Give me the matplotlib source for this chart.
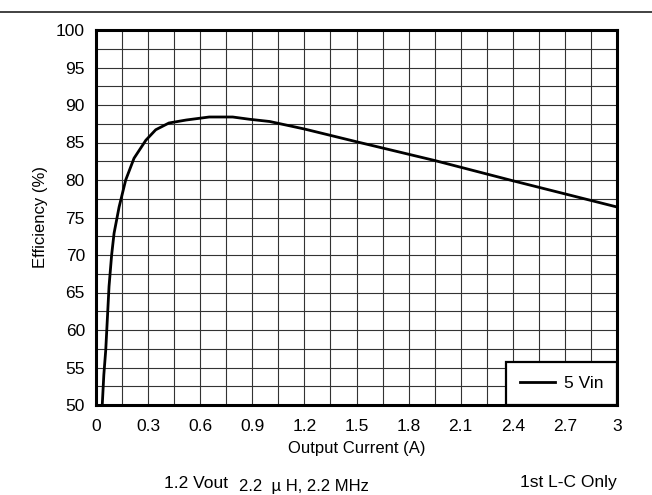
import matplotlib
matplotlib.use("Agg")
import matplotlib.pyplot as plt
from matplotlib.ticker import MultipleLocator
from matplotlib.lines import Line2D

plt.rcParams['font.family'] = ['Liberation Sans', 'DejaVu Sans']

# Efficiency vs. output current, 5 Vin
current = [0.036, 0.045, 0.056, 0.075, 0.09, 0.104, 0.133, 0.171, 0.219,
           0.287, 0.344, 0.42, 0.52, 0.652, 0.787, 0.883, 1.0, 1.2, 1.5,
           1.95, 2.4, 3.0]
efficiency = [50, 54, 57.3, 65.8, 70, 72.9, 76.4, 80, 82.9, 85.3, 86.7,
              87.6, 88.0, 88.4, 88.4, 88.1, 87.8, 86.8, 85.1, 82.6, 79.9,
              76.4]
series_label = "5 Vin"

x_ticks = [0, 0.3, 0.6, 0.9, 1.2, 1.5, 1.8, 2.1, 2.4, 2.7, 3]
x_tick_labels = ["0", "0.3", "0.6", "0.9", "1.2", "1.5", "1.8", "2.1",
                 "2.4", "2.7", "3"]
y_ticks = list(range(50, 101, 5))
notes = ["1.2 Vout", "2.2  \u00b5 H, 2.2 MHz", "1st L-C Only"]

fig = plt.figure(figsize=(6.52, 4.95), dpi=100)
ax = fig.add_axes([96 / 652, 1 - 405 / 495, (617 - 96) / 652, (405 - 30) / 495])

ax.plot(current, efficiency, color="black", lw=2.0, label=series_label,
        solid_joinstyle="round", zorder=3)

ax.set_xlim(0, 3)
ax.set_ylim(50, 100)
ax.set_xticks(x_ticks)
ax.set_xticklabels(x_tick_labels)
ax.set_yticks(y_ticks)
ax.xaxis.set_minor_locator(MultipleLocator(0.15))
ax.yaxis.set_minor_locator(MultipleLocator(2.5))
ax.grid(which="both", color="#333333", lw=0.8)
ax.set_axisbelow(True)
ax.tick_params(which="both", length=0, labelsize=12.5, colors="black")
ax.tick_params(axis="x", pad=10)
ax.tick_params(axis="y", pad=8)

for s in ax.spines.values():
    s.set_linewidth(2.2)
    s.set_color("black")

ax.set_xlabel("Output Current (A)", fontsize=12, labelpad=5)
ax.set_ylabel("Efficiency (%)", fontsize=12, labelpad=6)

leg = ax.legend(loc="lower right", borderaxespad=0, fancybox=False,
                edgecolor="black", framealpha=1, fontsize=12.5,
                handlelength=2.0, borderpad=0.8, handletextpad=0.5)
leg.get_frame().set_linewidth(1.6)
leg.set_zorder(5)

# separator line across the top
fig.add_artist(Line2D([0, 1], [1 - 12 / 495, 1 - 12 / 495],
                      transform=fig.transFigure, color="#333333", lw=1.3))

fig.text(196 / 652, 1 - 483 / 495, notes[0], ha="center", va="center",
         fontsize=12.5)
fig.text(304 / 652, 1 - 486 / 495, notes[1], ha="center", va="center",
         fontsize=12)
fig.text(568 / 652, 1 - 483 / 495, notes[2], ha="center", va="center",
         fontsize=12.5)

fig.savefig("out.png", dpi=100)
